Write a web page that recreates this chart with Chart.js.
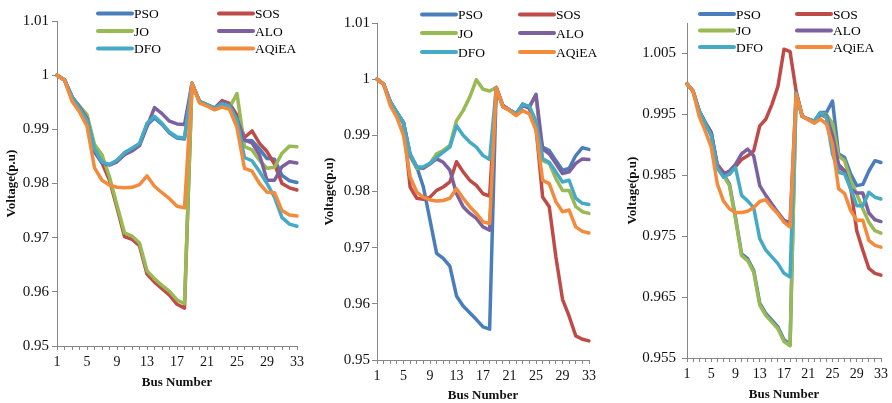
<!DOCTYPE html>
<html><head><meta charset="utf-8">
<script src="https://cdn.jsdelivr.net/npm/chart.js@4"></script>
<style>
html,body{margin:0;padding:0;background:#fff;}
body{width:892px;height:403px;overflow:hidden;position:relative;}
canvas{position:absolute;top:0;}
</style>
</head><body>
<canvas id="c1" width="310" height="403" style="left:0px"></canvas>
<canvas id="c2" width="300" height="403" style="left:300px"></canvas>
<canvas id="c3" width="292" height="403" style="left:600px"></canvas>
<script>
// ---------- DATA ----------
const busNumbers = ['1','2','3','4','5','6','7','8','9','10','11','12','13','14','15','16','17','18','19','20','21','22','23','24','25','26','27','28','29','30','31','32','33'];
const xTickLabels = ['1','5','9','13','17','21','25','29','33'];
const seriesNames = ['PSO','SOS','JO','ALO','DFO','AQiEA'];
const yTicksA = [0.95,0.96,0.97,0.98,0.99,1.00,1.01];
const yTicksB = [0.95,0.96,0.97,0.98,0.99,1.00,1.01];
const yTicksC = [0.955,0.965,0.975,0.985,0.995,1.005];

// Panel A
const psoA   = [1.0,0.9991,0.996,0.9941,0.992,0.9858,0.9838,0.9835,0.9842,0.9856,0.9863,0.9872,0.9908,0.9921,0.9909,0.9893,0.9884,0.9882,0.9985,0.9951,0.9945,0.9939,0.9951,0.9946,0.9922,0.988,0.9879,0.9864,0.9846,0.9845,0.9815,0.9805,0.9802];
const sosA   = [1.0,0.9991,0.9958,0.9942,0.9924,0.9862,0.9838,0.9806,0.9755,0.9702,0.9697,0.9685,0.9633,0.9618,0.9606,0.9594,0.9577,0.957,0.9985,0.9951,0.9945,0.9939,0.9953,0.9948,0.9926,0.9885,0.9897,0.9874,0.9859,0.9836,0.98,0.9792,0.9788];
const joA    = [1.0,0.9991,0.9958,0.9943,0.9927,0.9872,0.9853,0.9812,0.976,0.9709,0.9703,0.969,0.9639,0.9624,0.9612,0.9601,0.9585,0.9578,0.9985,0.9951,0.9945,0.9939,0.9944,0.994,0.9966,0.9868,0.9862,0.9843,0.9828,0.983,0.9856,0.9869,0.9868];
const aloA   = [1.0,0.9991,0.996,0.9941,0.992,0.986,0.9838,0.9834,0.984,0.9853,0.986,0.987,0.9905,0.994,0.9929,0.9915,0.991,0.9909,0.9985,0.9951,0.9945,0.9939,0.995,0.9945,0.992,0.988,0.9875,0.9853,0.9806,0.9806,0.9831,0.984,0.9838];
const dfoA   = [1.0,0.9991,0.996,0.9938,0.9917,0.9865,0.984,0.9835,0.9843,0.9857,0.9865,0.9874,0.9911,0.9924,0.9911,0.9895,0.9886,0.9884,0.9985,0.9951,0.9945,0.9939,0.9947,0.9943,0.9917,0.9848,0.9842,0.9822,0.98,0.9775,0.9737,0.9725,0.9721];
const aqieaA = [1.0,0.9991,0.9952,0.9932,0.9906,0.9829,0.9806,0.9797,0.9793,0.9792,0.9793,0.9798,0.9814,0.9795,0.9783,0.9772,0.9758,0.9755,0.9985,0.9949,0.9943,0.9936,0.9941,0.9937,0.9903,0.9828,0.9823,0.98,0.9784,0.9783,0.975,0.9742,0.974];

// Panel B
const psoB   = [1.0,0.9991,0.9959,0.9941,0.9923,0.9867,0.9844,0.9808,0.9749,0.969,0.9681,0.9667,0.9614,0.9596,0.9584,0.9572,0.9559,0.9555,0.9985,0.9953,0.9945,0.9938,0.9956,0.9949,0.992,0.9879,0.9873,0.9855,0.9838,0.9841,0.9864,0.9878,0.9875];
const sosB   = [1.0,0.9991,0.9958,0.994,0.9922,0.9808,0.9788,0.9786,0.979,0.9802,0.9808,0.9817,0.9853,0.9835,0.982,0.9811,0.9796,0.9792,0.9985,0.9953,0.9945,0.9938,0.9954,0.9948,0.9915,0.979,0.9773,0.9684,0.9608,0.9578,0.9543,0.9537,0.9534];
const joB    = [1.0,0.9991,0.996,0.9941,0.9922,0.9863,0.9841,0.9841,0.985,0.9867,0.9873,0.9882,0.9926,0.9944,0.9968,0.9999,0.9982,0.9979,0.9985,0.9951,0.9945,0.9938,0.9953,0.9952,0.9971,0.9855,0.985,0.9823,0.9802,0.9802,0.9773,0.9764,0.9761];
const aloB   = [1.0,0.9991,0.996,0.9941,0.9922,0.9864,0.9843,0.9842,0.9849,0.9858,0.9852,0.9838,0.9796,0.9773,0.9761,0.9752,0.9737,0.9731,0.9985,0.9951,0.9945,0.9938,0.9952,0.995,0.9973,0.9876,0.9867,0.985,0.9832,0.9835,0.985,0.9858,0.9857];
const dfoB   = [1.0,0.9991,0.996,0.9941,0.9922,0.9865,0.9843,0.9844,0.985,0.9861,0.987,0.9879,0.9917,0.99,0.9888,0.9879,0.9864,0.9857,0.9985,0.9951,0.9945,0.9938,0.9955,0.9952,0.9925,0.9858,0.9852,0.9835,0.9817,0.982,0.9788,0.9779,0.9777];
const aqieaB = [1.0,0.9991,0.9953,0.9932,0.99,0.9826,0.9799,0.979,0.9785,0.9783,0.9784,0.9788,0.9805,0.9788,0.9773,0.9761,0.9746,0.9743,0.9985,0.9951,0.9944,0.9935,0.9944,0.9938,0.9909,0.982,0.9814,0.9782,0.9764,0.9767,0.9737,0.9729,0.9726];

// Panel C
const psoC   = [1.0,0.9988,0.9955,0.9937,0.992,0.9863,0.9852,0.9836,0.9781,0.9721,0.9713,0.9694,0.964,0.9623,0.9612,0.9601,0.958,0.9572,0.9985,0.9947,0.9942,0.9939,0.9953,0.9953,0.9972,0.9885,0.9879,0.9852,0.9833,0.9835,0.9857,0.9874,0.9871];
const sosC   = [1.0,0.9988,0.9955,0.9934,0.9917,0.9868,0.9855,0.9852,0.9864,0.9876,0.9882,0.989,0.9931,0.9942,0.9966,0.9996,1.0057,1.0053,0.9988,0.9947,0.9942,0.9936,0.995,0.9945,0.9906,0.9863,0.9857,0.983,0.9759,0.9727,0.9697,0.9689,0.9686];
const joC    = [1.0,0.9988,0.9955,0.9937,0.992,0.9862,0.985,0.9833,0.9778,0.9718,0.971,0.9691,0.9637,0.962,0.9609,0.9598,0.9577,0.957,0.9985,0.9947,0.9942,0.9939,0.9952,0.995,0.9935,0.9882,0.9874,0.9841,0.9819,0.9795,0.9773,0.9759,0.9755];
const aloC   = [1.0,0.9988,0.9956,0.9937,0.992,0.9865,0.9852,0.9857,0.9868,0.9885,0.9893,0.9882,0.9833,0.9817,0.9803,0.9789,0.9776,0.9772,0.9985,0.9947,0.9942,0.9938,0.9951,0.9948,0.9915,0.9868,0.9857,0.9827,0.9821,0.9821,0.9788,0.9777,0.9774];
const dfoC   = [1.0,0.9988,0.9956,0.9935,0.9915,0.9862,0.9847,0.9852,0.9863,0.9817,0.9808,0.9797,0.9746,0.9727,0.9716,0.9705,0.9689,0.9683,0.9985,0.9947,0.9942,0.9938,0.9953,0.9945,0.9885,0.9855,0.9852,0.9828,0.98,0.98,0.9822,0.9814,0.9811];
const aqieaC = [1.0,0.9988,0.9947,0.9923,0.9896,0.9836,0.9808,0.9795,0.9789,0.9789,0.9791,0.9797,0.9807,0.981,0.9797,0.9787,0.9773,0.9765,0.9983,0.9947,0.9941,0.9936,0.9942,0.9934,0.9901,0.9828,0.982,0.9792,0.9776,0.9776,0.9743,0.9735,0.9732];

// ---------- STYLE ----------
const colors = ['#4A7EBB','#BE4B48','#98B954','#7D60A0','#46AAC5','#F38B3D'];
const FONT = '"Liberation Serif", "Times New Roman", serif';
const AXIS = '#868686';
Chart.defaults.font.family = FONT;
Chart.defaults.color = '#000';

const xlLegend = {
  id: 'xlLegend',
  afterDatasetsDraw(chart, args, opts) {
    const ctx = chart.ctx;
    ctx.save();
    chart.data.datasets.forEach((ds, i) => {
      const x = opts.cols[i % 2], y = opts.rows[Math.floor(i / 2)];
      ctx.strokeStyle = ds.borderColor;
      ctx.lineWidth = 4;
      ctx.lineCap = 'round';
      ctx.beginPath(); ctx.moveTo(x, y); ctx.lineTo(x + opts.len, y); ctx.stroke();
      ctx.fillStyle = '#000';
      ctx.font = '13.5px ' + FONT;
      ctx.textBaseline = 'middle';
      ctx.textAlign = 'left';
      ctx.fillText(ds.label, x + opts.len + 2, y + 1);
    });
    ctx.restore();
  }
};

function buildChart(id, series, yTicks, yMin, yMax, L) {
  const datasets = series.map((d, i) => ({
    label: seriesNames[i], data: d, borderColor: colors[i], backgroundColor: colors[i],
    borderWidth: 3.5, pointRadius: 0, tension: 0, fill: false,
    borderJoinStyle: 'round', borderCapStyle: 'round', order: series.length - i
  }));
  return new Chart(document.getElementById(id), {
    type: 'line',
    data: { labels: busNumbers, datasets },
    plugins: [xlLegend],
    options: {
      responsive: false, animation: false,
      layout: { padding: { left: 0, right: L.padR, top: L.padT, bottom: 0 } },
      plugins: { legend: { display: false }, tooltip: { enabled: false },
        xlLegend: { cols: L.legCols, rows: L.legRows, len: 34 } },
      scales: {
        x: {
          type: 'category', offset: false,
          grid: { display: true, drawOnChartArea: false, drawTicks: true, tickLength: 4, color: AXIS },
          border: { display: true, color: AXIS, width: 1 },
          ticks: { autoSkip: false, maxRotation: 0, minRotation: 0, padding: 4,
            font: { size: 14 }, color: '#111',
            callback: function(v, idx) { const s = busNumbers[idx]; return xTickLabels.includes(s) ? s : ''; } },
          title: { display: true, text: 'Bus Number', font: { size: 13, weight: 'bold' }, color: '#111',
            padding: { top: 0, bottom: L.xTitlePB } },
          afterFit: (s) => { s.height = L.xH; }
        },
        y: {
          type: 'linear', min: yMin, max: yMax,
          grid: { display: true, drawOnChartArea: false, drawTicks: true, tickLength: 5, color: AXIS },
          border: { display: true, color: AXIS, width: 1 },
          ticks: { padding: L.yTickPad, font: { size: 15 }, color: '#111',
            callback: (v) => String(Number(Number(v).toFixed(4))) },
          afterBuildTicks: (s) => { s.ticks = yTicks.map(v => ({ value: v })); },
          title: { display: true, text: 'Voltage(p.u)', font: { size: 13, weight: 'bold' }, color: '#111',
            padding: { top: L.yTitlePT, bottom: 0 } },
          afterFit: (s) => { s.width = L.yW; }
        }
      }
    }
  });
}

buildChart('c1', [psoA, sosA, joA, aloA, dfoA, aqieaA], yTicksA, 0.95, 1.01,
  { padR: 13, padT: 21, xH: 57, yW: 57, xTitlePB: 13, yTitlePT: 3.5, yTickPad: 3,
    legCols: [98, 219], legRows: [13.5, 31, 48.5] });
buildChart('c2', [psoB, sosB, joB, aloB, dfoB, aqieaB], yTicksB, 0.95, 1.01,
  { padR: 9, padT: 23, xH: 43, yW: 77, xTitlePB: 0, yTitlePT: 22, yTickPad: 2,
    legCols: [122, 220], legRows: [14.5, 33, 52] });
buildChart('c3', [psoC, sosC, joC, aloC, dfoC, aqieaC], yTicksC, 0.955, 1.01,
  { padR: 9, padT: 23, xH: 45, yW: 87, xTitlePB: 1, yTitlePT: 25, yTickPad: 6,
    legCols: [100, 197], legRows: [14, 30.5, 47] });
</script>
</body></html>
